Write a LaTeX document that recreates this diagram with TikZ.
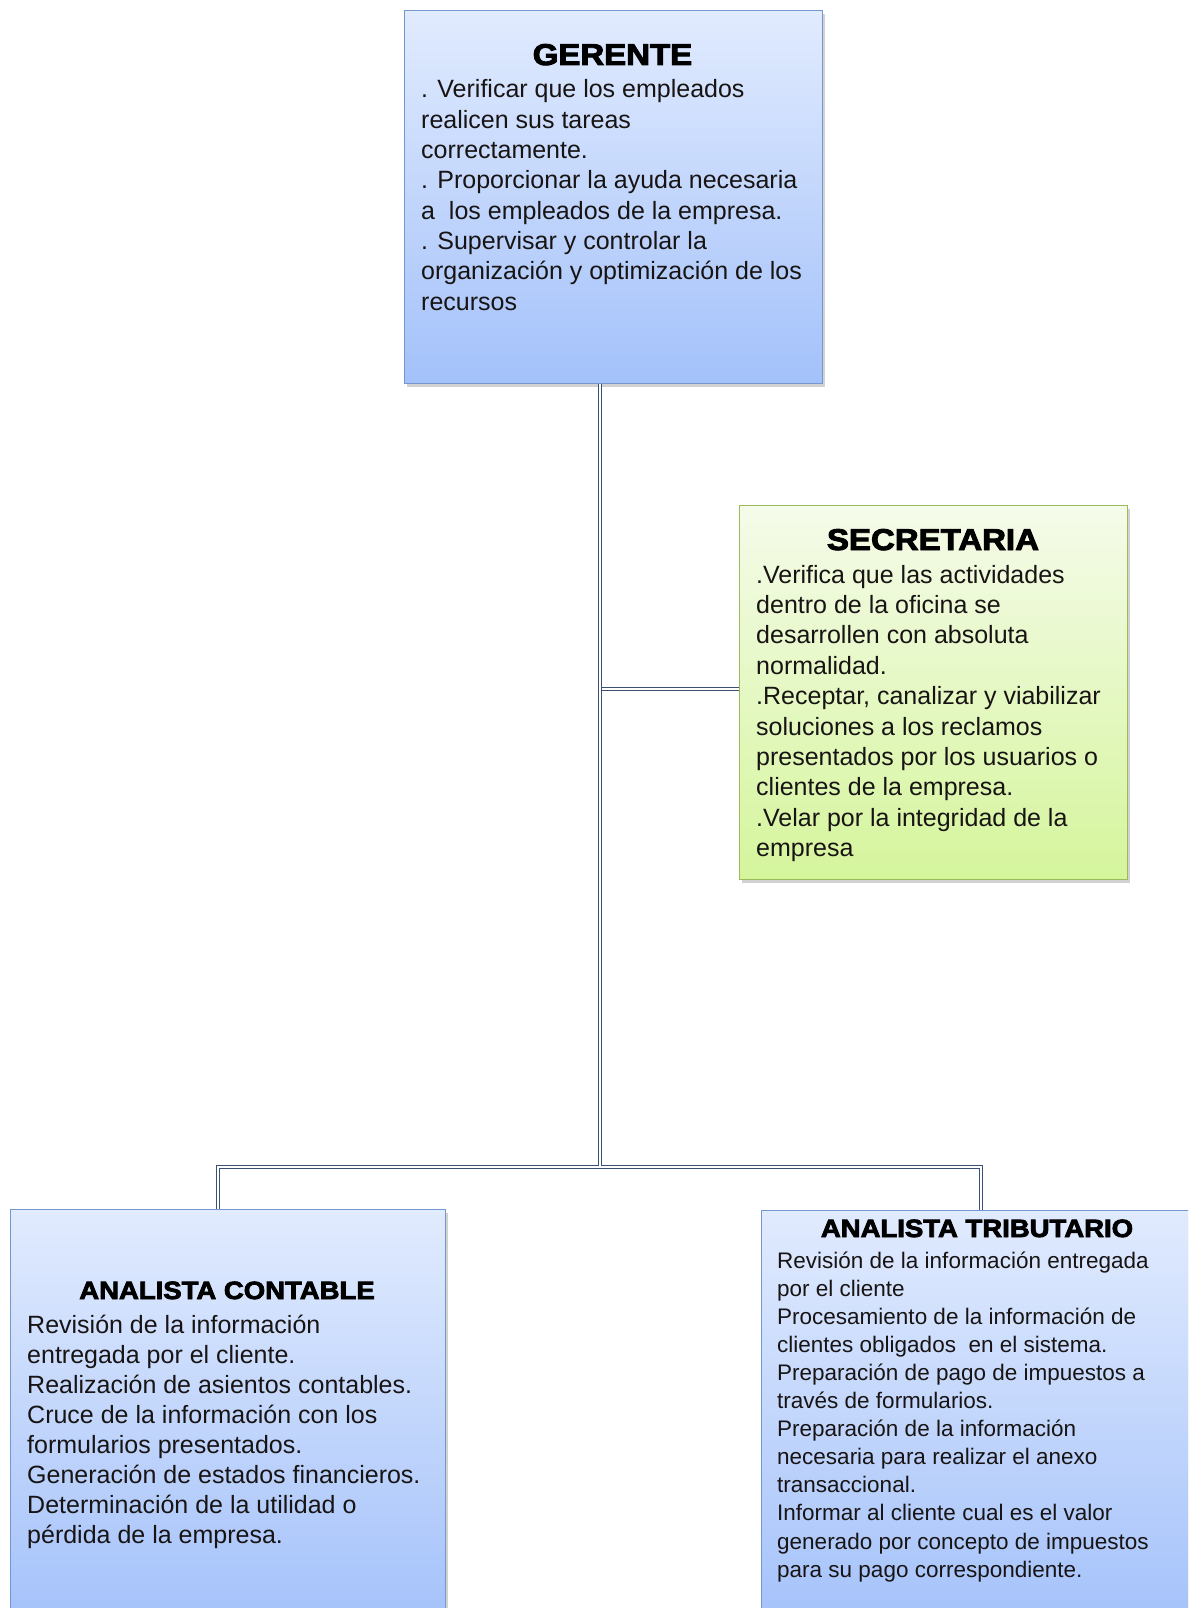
\documentclass[tikz,border=0pt]{standalone}
\usepackage{fontspec}
\setmainfont{Liberation Sans}
\newfontface\blackfont[FakeBold=3]{Liberation Sans Bold}
\usetikzlibrary{shadows,calc}
\definecolor{bluetop}{HTML}{E1EBFE}
\definecolor{bluebot}{HTML}{A3C1FA}
\definecolor{blueline}{HTML}{7497CF}
\definecolor{greentop}{HTML}{F5FBEA}
\definecolor{greenbot}{HTML}{D5F59C}
\definecolor{greenline}{HTML}{9BBB59}
\definecolor{connc}{HTML}{3A4F73}
\definecolor{txt}{HTML}{181414}
\begin{document}
\begin{tikzpicture}[x=1pt,y=-1pt,
  boxbase/.style={line width=1.3pt, inner sep=0pt, anchor=north west,
    drop shadow={shadow xshift=2pt, shadow yshift=-3pt, opacity=0.35}},
  bluebox/.style={boxbase, draw=blueline, top color=bluetop, bottom color=bluebot},
  greenbox/.style={boxbase, draw=greenline, top color=greentop, bottom color=greenbot},
  conn/.style={draw=connc, line width=1.45pt, double=white, double distance=1.3pt},
  ttlbig/.style={anchor=base, inner sep=0pt, text=black, font=\blackfont\fontsize{30}{36}\selectfont},
  ttlsmall/.style={anchor=base, inner sep=0pt, text=black, font=\blackfont\fontsize{25}{30}\selectfont},
  body/.style={anchor=base west, inner sep=0pt, text=txt}]
\useasboundingbox (0,0) rectangle (1188,1608);
\clip (0,0) rectangle (1188,1608);
\fill[white] (0,0) rectangle (1188,1608);

% boxes
\node[bluebox, minimum width=418pt, minimum height=373pt] (gerente) at (404,10) {};
\node[greenbox, minimum width=388pt, minimum height=374pt] (secretaria) at (739,505) {};
\node[bluebox, minimum width=435pt, minimum height=420pt] (contable) at (10,1209) {};
\node[bluebox, minimum width=440pt, minimum height=420pt] (tributario) at (761,1210) {};

% connectors
\coordinate (jS) at (600,689);
\coordinate (jB) at (600,1166);
\coordinate (lB) at (218,1167);
\coordinate (rB) at (981,1167);
\draw[conn] (jS) -- (jS -| secretaria.west);
\draw[conn] (contable.north -| lB) -- (lB) -- (rB) -- (tributario.north -| rB);
\draw[conn] (gerente.south -| jB) -- (jB);

% GERENTE
\node[ttlbig] (gerenteT) at (612.5,65) {\scalebox{1.1}[1]{GERENTE}};
\node[body] (gerenteB) at (421,98) {\parbox[t]{420pt}{\fontsize{25}{30.3}\selectfont\raggedright
. Verificar que los empleados\\
realicen sus tareas\\
correctamente.\\
. Proporcionar la ayuda necesaria\\
a\ \ los empleados de la empresa.\\
. Supervisar y controlar la\\
organización y optimización de los\\
recursos}};

% SECRETARIA
\node[ttlbig] (secretariaT) at (933,550) {\scalebox{1.1}[1]{SECRETARIA}};
\node[body] (secretariaB) at (756,583) {\parbox[t]{400pt}{\fontsize{25}{30.4}\selectfont\raggedright
.Verifica que las actividades\\
dentro de la oficina se\\
desarrollen con absoluta\\
normalidad.\\
.Receptar, canalizar y viabilizar\\
soluciones a los reclamos\\
presentados por los usuarios o\\
clientes de la empresa.\\
.Velar por la integridad de la\\
empresa}};

% ANALISTA CONTABLE
\node[ttlsmall] (contableT) at (227,1299) {\scalebox{1.1}[1]{ANALISTA CONTABLE}};
\node[body] (contableB) at (27,1333) {\parbox[t]{430pt}{\fontsize{25}{30}\selectfont\raggedright
Revisión de la información\\
entregada por el cliente.\\
Realización de asientos contables.\\
Cruce de la información con los\\
formularios presentados.\\
Generación de estados financieros.\\
Determinación de la utilidad o\\
pérdida de la empresa.}};

% ANALISTA TRIBUTARIO
\node[ttlsmall] (tributarioT) at (977,1237) {\scalebox{1.1}[1]{ANALISTA TRIBUTARIO}};
\node[body] (tributarioB) at (777,1268) {\parbox[t]{420pt}{\fontsize{22.5}{28.1}\selectfont\raggedright
Revisión de la información entregada\\
por el cliente\\
Procesamiento de la información de\\
clientes obligados\ \ en el sistema.\\
Preparación de pago de impuestos a\\
través de formularios.\\
Preparación de la información\\
necesaria para realizar el anexo\\
transaccional.\\
Informar al cliente cual es el valor\\
generado por concepto de impuestos\\
para su pago correspondiente.}};
\end{tikzpicture}
\end{document}
